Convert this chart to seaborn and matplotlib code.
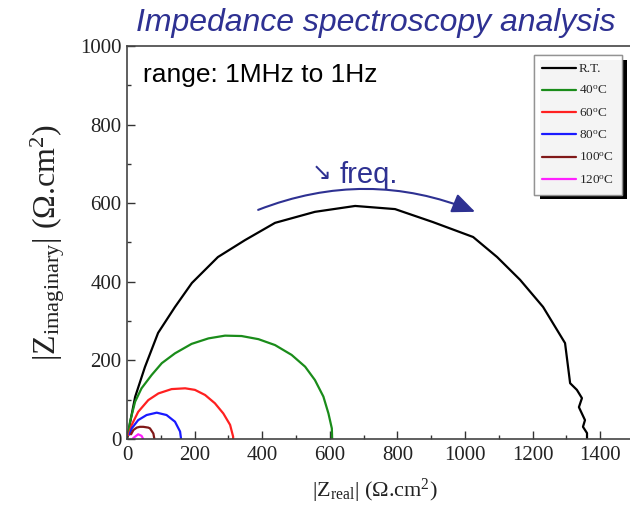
import numpy as np
import pandas as pd
import matplotlib
matplotlib.use("Agg")
import matplotlib.pyplot as plt
import matplotlib.patheffects as pe
import seaborn as sns

# ---- data ----
rt_x = [0, 2, 9, 24, 53, 92, 142, 192, 269, 349, 438, 556, 675, 793, 905, 1024,
        1095, 1163, 1231, 1296, 1311, 1331, 1346, 1337, 1355, 1349, 1361, 1361]
rt_y = [0, 8, 41, 107, 183, 270, 336, 397, 463, 506, 550, 578, 593, 585, 552, 514,
        463, 405, 336, 244, 142, 125, 104, 81, 48, 31, 15, 0]
c40_x = [3, 9, 24, 43, 73, 103, 142, 191, 241, 290, 339, 389, 438, 487, 527, 556,
         581, 596, 606, 607]
c40_y = [10, 44, 95, 129, 163, 193, 218, 242, 256, 263, 262, 254, 239, 214, 184, 150,
         108, 65, 27, 0]
c60_x = [5, 14, 33, 63, 93, 132, 172, 201, 231, 260, 285, 305, 314, 314]
c60_y = [10, 36, 69, 99, 116, 127, 129, 125, 112, 91, 65, 36, 6, 0]
c80_x = [8, 14, 33, 58, 88, 117, 142, 157, 160]
c80_y = [12, 27, 48, 61, 67, 61, 44, 19, 0]
c100_x = [12, 19, 29, 38, 48, 63, 68, 78, 81]
c100_y = [12, 23, 29, 31, 31, 29, 27, 14, 0]
c120_x = [18, 24, 33, 43, 48]
c120_y = [2, 6, 12, 8, 0]

labels = ["R.T.", r"40$^\mathrm{o}$C", r"60$^\mathrm{o}$C", r"80$^\mathrm{o}$C",
          r"100$^\mathrm{o}$C", r"120$^\mathrm{o}$C"]
colors = ["#000000", "#1a8c1a", "#ff2020", "#1a1aff", "#801818", "#ff20ff"]

xs = [rt_x, c40_x, c60_x, c80_x, c100_x, c120_x]
ys = [rt_y, c40_y, c60_y, c80_y, c100_y, c120_y]

rows = []
for lab, x, y in zip(labels, xs, ys):
    for i, (a, b) in enumerate(zip(x, y)):
        rows.append({"Zreal": a, "Zimag": b, "T": lab, "i": i})
df = pd.DataFrame(rows)

sns.set_style("ticks")
plt.rcParams["font.family"] = ["Liberation Serif", "DejaVu Serif"]
plt.rcParams["mathtext.fontset"] = "custom"
plt.rcParams["mathtext.rm"] = "Liberation Serif"
plt.rcParams["mathtext.it"] = "Liberation Serif:italic"
plt.rcParams["mathtext.bf"] = "Liberation Serif:bold"

fig = plt.figure(figsize=(6.3, 5.18), dpi=100)
W, H = 630, 518
ax = fig.add_axes([127 / W, (H - 439) / H, 507 / W, 393 / H])

sns.lineplot(data=df, x="Zreal", y="Zimag", hue="T", palette=colors,
             sort=False, estimator=None, units="T", lw=1.6, ax=ax, legend=True)

ax.set_xlim(0, 1500)
ax.set_ylim(0, 1000)
ax.set_xticks(np.arange(0, 1401, 200))
ax.set_xticks(np.arange(0, 1501, 100), minor=True)
ax.set_yticks(np.arange(0, 1001, 200))
ax.set_yticks(np.arange(0, 1001, 100), minor=True)
ax.tick_params(which="major", direction="in", length=6, width=1.0, labelsize=15,
               colors="#333333", labelcolor="#222222", pad=4)
ax.tick_params(which="minor", direction="in", length=3, width=1.0, colors="#333333")
ax.tick_params(axis="x", pad=5)
for s in ax.spines.values():
    s.set_color("#444444")
    s.set_linewidth(1.2)
ax.spines["right"].set_visible(False)

ax.set_xlabel(r"|Z$_{\mathrm{real}}$| (Ω.cm$^{2}$)", fontsize=16, color="#222222")
ax.set_ylabel(r"|Z$_{\mathrm{imaginary}}$| (Ω.cm$^{2}$)", fontsize=23, color="#222222")
ax.xaxis.set_label_coords(0.489, -0.095)
ax.yaxis.set_label_coords(-0.118, 0.5)

handles, labs = ax.get_legend_handles_labels()
leg = ax.legend(handles, labs, loc="upper right", bbox_to_anchor=(0.976, 0.977),
                borderaxespad=0, fontsize=9.5, frameon=True, fancybox=False,
                edgecolor="#888888", handlelength=2.6, handletextpad=0.2,
                labelspacing=0.75, borderpad=0.6)
leg.get_frame().set_linewidth(1.0)
leg.get_frame().set_path_effects([
    pe.withSimplePatchShadow(offset=(4, -3.5), shadow_rgbFace="black", alpha=1.0),
    pe.Normal()])
for ln in leg.get_lines():
    ln.set_linewidth(1.6)

blue = "#2E3192"
fig.text(376 / W, 1 - 23 / H, "Impedance spectroscopy analysis", ha="center", va="center",
         fontsize=23, style="italic", color=blue, family=["Liberation Sans", "DejaVu Sans"])
fig.text(143 / W, 1 - 75 / H, "range: 1MHz to 1Hz", ha="left", va="center",
         fontsize=19, color="black", family=["Liberation Sans", "DejaVu Sans"])

ax.annotate("", xy=(1030, 578), xytext=(388, 583),
            arrowprops=dict(arrowstyle="-|>,head_length=0.7,head_width=0.3",
                            connectionstyle="arc3,rad=-0.2", color=blue, lw=1.5,
                            mutation_scale=20, shrinkA=0, shrinkB=0))
ax.text(577, 677, "\u2198", ha="center", va="center", fontsize=17, color=blue,
        family=["DejaVu Sans"])
ax.text(630, 651, "freq.", ha="left", va="baseline", fontsize=21, color=blue,
        family=["Liberation Sans", "DejaVu Sans"])

fig.savefig("out.png", dpi=100)
